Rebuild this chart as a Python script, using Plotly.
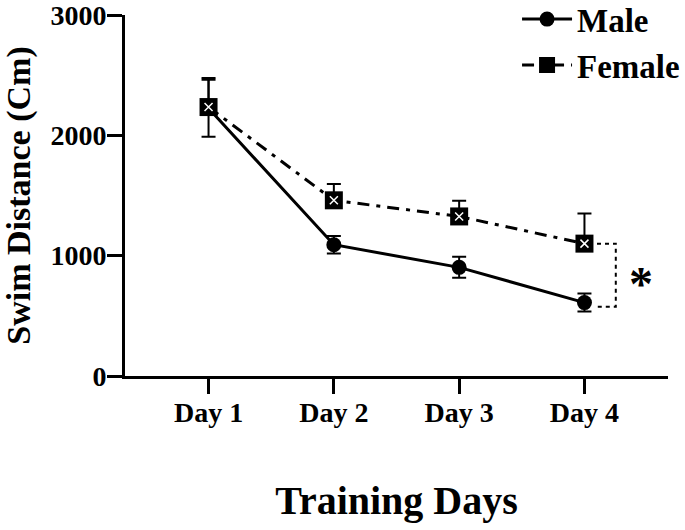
import plotly.graph_objects as go

days = ["Day 1", "Day 2", "Day 3", "Day 4"]
x_pos = [1, 2, 3, 4]
male_mean = [2225, 1091, 903, 610]
male_sem = [237, 72, 87, 75]
female_mean = [2235, 1460, 1326, 1100]
female_sem = [242, 135, 130, 250]
y_ticks = [0, 1000, 2000, 3000]

FONT = "Liberation Serif"

fig = go.Figure()
fig.add_trace(go.Scatter(
    x=x_pos, y=male_mean, name="Male", mode="lines+markers",
    line=dict(color="black", width=3),
    marker=dict(symbol="circle", size=15, color="black"),
    error_y=dict(type="data", array=male_sem, color="black", thickness=2, width=7),
))
fig.add_trace(go.Scatter(
    x=x_pos, y=female_mean, name="Female", mode="lines+markers",
    line=dict(color="black", width=3, dash="12px,7px,4px,7px"),
    marker=dict(symbol="square", size=18, color="black"),
    error_y=dict(type="data", symmetric=False, array=female_sem,
                 arrayminus=[0] * len(female_sem),
                 color="black", thickness=2, width=7),
    legendgroup="f",
))
# white cross inside the female markers
fig.add_trace(go.Scatter(
    x=x_pos, y=female_mean, mode="markers", showlegend=False, hoverinfo="skip",
    marker=dict(symbol="x-thin", size=8, color="white",
                line=dict(color="white", width=1.5)),
    legendgroup="f",
))

# significance bracket between Day 4 means
bx0, bx1 = 4.1, 4.25
ytop, ybot = female_mean[3], male_mean[3] - 35
fig.add_shape(type="path",
              path=f"M {bx0} {ytop} L {bx1} {ytop} L {bx1} {ybot} L {bx0} {ybot}",
              line=dict(color="black", width=2, dash="4px,4px"),
              xref="x", yref="y")
fig.add_annotation(x=4.45, y=(ytop + ybot) / 2 - 70, text="*", showarrow=False,
                   font=dict(family=FONT, size=48, color="black", weight="bold"),
                   xref="x", yref="y")

fig.update_layout(
    width=685, height=530,
    margin=dict(l=125, r=17, t=15, b=153.5, autoexpand=False),
    paper_bgcolor="white", plot_bgcolor="white",
    font=dict(family=FONT, color="black", weight="bold"),
    showlegend=True,
    legend=dict(x=0.722, y=1.066, xanchor="left", yanchor="top",
                font=dict(family=FONT, size=33, color="black", weight="bold"),
                bgcolor="rgba(0,0,0,0)", tracegroupgap=0, itemwidth=50),
)
fig.update_xaxes(
    range=[1/3, 4 + 2/3], tickvals=x_pos, ticktext=days,
    showline=True, linecolor="black", linewidth=3,
    ticks="outside", ticklen=15, tickwidth=3, tickcolor="black",
    showgrid=False, zeroline=False, automargin=False, ticklabeloverflow="allow",
    ticklabelstandoff=-6,
    tickfont=dict(family=FONT, size=28, color="black", weight="bold"),
    title=dict(text="Training Days", standoff=60,
               font=dict(family=FONT, size=40, color="black", weight="bold")),
)
fig.update_yaxes(
    range=[0, 3000], tickvals=y_ticks,
    showline=True, linecolor="black", linewidth=3,
    ticks="outside", ticklen=15, tickwidth=3, tickcolor="black",
    showgrid=False, zeroline=False, automargin=False, ticklabeloverflow="allow",
    ticklabelstandoff=-5,
    tickfont=dict(family=FONT, size=28, color="black", weight="bold"),
    title=dict(text="Swim Distance (Cm)", standoff=13,
               font=dict(family=FONT, size=34, color="black", weight="bold")),
)

fig.write_html("out.html", config={"displayModeBar": False},
               post_script="document.body.style.margin='0';")
